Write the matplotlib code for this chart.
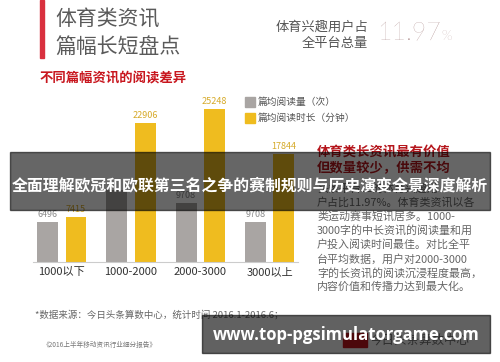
import numpy as np
import matplotlib
matplotlib.use("Agg")
import matplotlib.pyplot as plt
from matplotlib.patches import Rectangle

plt.rcParams["font.family"] = ["Noto Sans CJK SC", "DejaVu Sans"]

# data
categories = ["1000以下", "1000-2000", "2000-3000", "3000以上"]
reads = [6496, 11800, 9708, 6650]            # 篇均阅读量（次）
read_labels = ["6496", "", "9708", "9708"]   # label on bar 2 is hidden by the banner
durations = [7415, 22906, 25248, 17844]      # 篇均阅读时长（分钟）
duration_labels = ["7415", "22906", "25248", "17844"]
share_text = "11.97"

body_lines = [
    "头条平台上的体育兴趣用",
    "户占比11.97%。体育类资讯以各",
    "类运动赛事短讯居多。1000-",
    "3000字的中长资讯的阅读量和用",
    "户投入阅读时间最佳。对比全平",
    "台平均数据，用户对2000-3000",
    "字的长资讯的阅读沉浸程度最高，",
    "内容价值和传播力达到最大化。",
]

GRAY = "#a9a5a3"
GOLD = "#efbc1f"
RED = "#c8161e"

W, H = 500, 362


def fx(x):
    return x / W


def fy(y):
    return 1 - y / H


fig = plt.figure(figsize=(W / 100, H / 100), dpi=100)
fig.patch.set_facecolor("white")

# title block
fig.patches.append(Rectangle((fx(40), fy(58)), 3.5 / W, 58 / H,
                             transform=fig.transFigure, color="#d9303e"))
fig.text(fx(55), fy(19), "体育类资讯", fontsize=15, color="#5a5a5a",
         va="center", ha="left", fontweight="light")
fig.text(fx(55), fy(47), "篇幅长短盘点", fontsize=15, color="#5a5a5a",
         va="center", ha="left", fontweight="light")
fig.text(fx(40), fy(78), "不同篇幅资讯的阅读差异", fontsize=9.6, color=RED,
         va="center", ha="left", fontweight="bold")

fig.text(fx(368), fy(27), "体育兴趣用户占", fontsize=9.5, color="#555555",
         va="center", ha="right")
fig.text(fx(368), fy(44), "全平台总量", fontsize=9.5, color="#555555",
         va="center", ha="right")
fig.text(fx(377), fy(33), share_text, fontsize=18, color="#a88585",
         va="center", ha="left", family="Lato", fontweight="light")
fig.text(fx(441), fy(37), "%", fontsize=10, color="#a88585",
         va="center", ha="left", family="Lato", fontweight="light")

# bar chart
base_y, top_y = 261.7, 92
px_per_unit = 165.6
ax = fig.add_axes([fx(33), fy(base_y), (298 - 33) / W, (base_y - top_y) / H])
x = np.arange(len(categories))
off, bw = 0.205, 0.30
ax.bar(x - off, reads, bw, color=GRAY, zorder=2)
ax.bar(x + off, durations, bw, color=GOLD, zorder=2)
ax.set_ylim(0, (base_y - top_y) * px_per_unit)
ax.set_xlim(-0.415, 3.41)
pad = 3 * px_per_unit
for xi, v, t in zip(x, reads, read_labels):
    ax.text(xi - off, v + pad, t, ha="center", va="bottom", fontsize=6.5,
            color="#8c8c8c")
for xi, v, t in zip(x, durations, duration_labels):
    ax.text(xi + off, v + pad, t, ha="center", va="bottom", fontsize=6.5,
            color="#d6aa2a")
ax.set_xticks(x, categories)
ax.tick_params(axis="x", length=0, pad=4, labelsize=8, labelcolor="#333333")
ax.set_yticks([])
for s in ("top", "right", "left"):
    ax.spines[s].set_visible(False)
ax.spines["bottom"].set_color("#cccccc")
ax.set_facecolor("none")

# legend
fig.patches.append(Rectangle((fx(245), fy(107.3)), 10 / W, 10 / H,
                             transform=fig.transFigure, color=GRAY))
fig.patches.append(Rectangle((fx(245), fy(122.7)), 10 / W, 10 / H,
                             transform=fig.transFigure, color=GOLD))
fig.text(fx(258), fy(102), "篇均阅读量（次）", fontsize=7, color="#555555",
         va="center", ha="left")
fig.text(fx(258), fy(118), "篇均阅读时长（分钟）", fontsize=7, color="#555555",
         va="center", ha="left")

# right column
fig.text(fx(317), fy(151.7), "体育类长资讯最有价值", fontsize=9.6, color="#b5161c",
         va="center", ha="left", fontweight="bold")
fig.text(fx(317), fy(168), "但数量较少，供需不均", fontsize=9.6, color="#b5161c",
         va="center", ha="left", fontweight="bold")
for i, line in enumerate(body_lines):
    fig.text(fx(317), fy(188.5 + i * 14.1), line, fontsize=7.9, color="#666666",
             va="center", ha="left")

# footnotes
fig.text(fx(35), fy(315), "*数据来源：今日头条算数中心，统计时间 2016.1-2016.6；",
         fontsize=6.8, color="#666666", va="center", ha="left")
fig.text(fx(42), fy(345), "《2016上半年移动资讯行业细分报告》", fontsize=4.8,
         color="#777777", va="center", ha="left")
fig.patches.append(Rectangle((fx(343), fy(347)), 24 / W, 14 / H,
                             transform=fig.transFigure, color="#c8161e"))
fig.text(fx(370), fy(340), "今日头条算数中心", fontsize=9, color="#777777",
         va="center", ha="left")

# overlay banners
fig.patches.append(Rectangle((fx(10), fy(210)), 480 / W, 58 / H,
                             transform=fig.transFigure, color="black",
                             alpha=0.6, zorder=10))
fig.text(fx(250), fy(185), "全面理解欧冠和欧联第三名之争的赛制规则与历史演变全景深度解析",
         fontsize=11.4, color="white", fontweight="bold", va="center",
         ha="center", zorder=11)
fig.patches.append(Rectangle((fx(202), fy(352.5)), 288 / W, 37.5 / H,
                             transform=fig.transFigure, color="black",
                             alpha=0.62, zorder=10))
fig.text(fx(346), fy(335.5), "www.top-pgsimulatorgame.com", fontsize=12,
         color="white", fontweight="bold", family="Open Sans", va="center",
         ha="center", zorder=11)

fig.savefig("out.png", dpi=100)
